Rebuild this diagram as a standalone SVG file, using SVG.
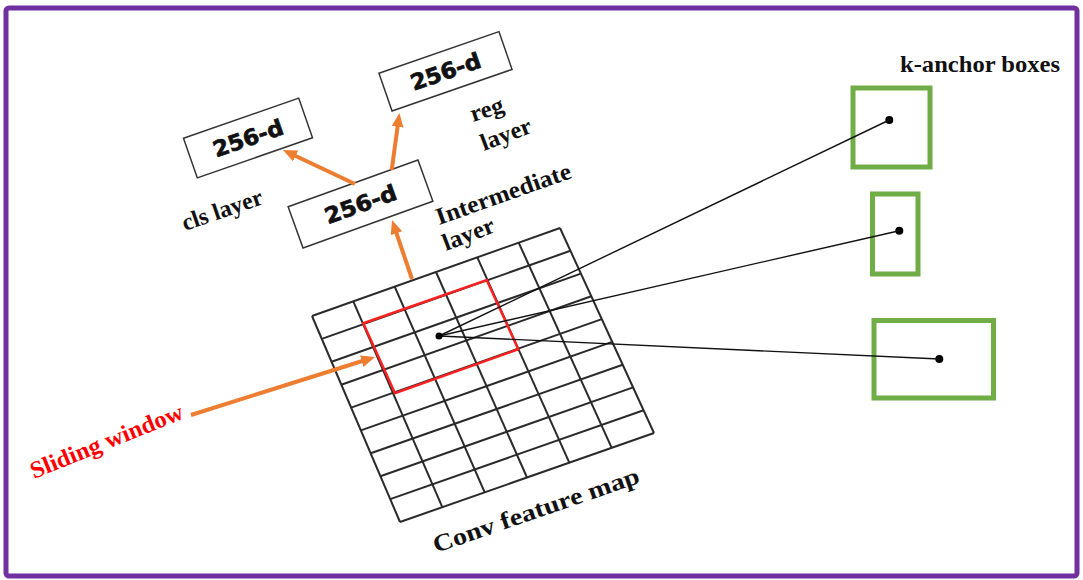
<svg xmlns="http://www.w3.org/2000/svg" width="1083" height="580" viewBox="0 0 1083 580">
  <style>
    .frame { fill: #ffffff; stroke: #7030A0; stroke-width: 5; }
    .grid line { stroke: #2a2a2a; stroke-width: 2; }
    .win { fill: none; stroke: #FF2020; stroke-width: 2.5; }
    .box { fill: #ffffff; stroke: #333333; stroke-width: 1.5; }
    .dim { font-family: "DejaVu Sans", "Liberation Sans", sans-serif; font-weight: bold; font-size: 22px; fill: #111111; stroke: #111111; stroke-width: 0.7; text-anchor: middle; }
    .lbl { font-family: "Liberation Serif", "Times New Roman", serif; font-weight: bold; font-size: 24px; fill: #111111; }
    .flow { stroke: #ED7D31; stroke-width: 4; fill: none; }
    .ray { stroke: #111111; stroke-width: 1.4; }
    .anchor { fill: none; stroke: #70AD47; stroke-width: 5; }
    .pt { fill: #000000; }
  </style>
  <defs>
    <marker id="arrow" markerUnits="userSpaceOnUse" markerWidth="16" markerHeight="14" refX="4" refY="6" orient="auto">
      <path d="M0,0 L14,6 L0,12 z" fill="#ED7D31"/>
    </marker>
  </defs>

  <!-- outer frame -->
  <rect class="frame" x="6" y="8" width="1071" height="568" rx="3"/>

  <!-- conv feature map: 6 x 9 skewed grid -->
  <g id="feature-map" class="grid">
    <line x1="312" y1="316" x2="400" y2="522"/>
    <line x1="353.3" y1="301.3" x2="442.3" y2="507.2"/>
    <line x1="394.7" y1="286.7" x2="484.7" y2="492.3"/>
    <line x1="436" y1="272" x2="527" y2="477.5"/>
    <line x1="477.3" y1="257.3" x2="569.3" y2="462.7"/>
    <line x1="518.7" y1="242.7" x2="611.7" y2="447.8"/>
    <line x1="560" y1="228" x2="654" y2="433"/>
    <line x1="312" y1="316" x2="560" y2="228"/>
    <line x1="321.8" y1="338.9" x2="570.4" y2="250.8"/>
    <line x1="331.6" y1="361.8" x2="580.9" y2="273.6"/>
    <line x1="341.3" y1="384.7" x2="591.3" y2="296.3"/>
    <line x1="351.1" y1="407.6" x2="601.8" y2="319.1"/>
    <line x1="360.9" y1="430.4" x2="612.2" y2="341.9"/>
    <line x1="370.7" y1="453.3" x2="622.7" y2="364.7"/>
    <line x1="380.4" y1="476.2" x2="633.1" y2="387.4"/>
    <line x1="390.2" y1="499.1" x2="643.6" y2="410.2"/>
    <line x1="400" y1="522" x2="654" y2="433"/>
  </g>

  <!-- sliding window -->
  <g id="sliding-window">
    <polygon class="win" points="363.3,323.3 486.7,280 518.3,349.3 395,393.3"/>
  </g>

  <!-- 256-d layers -->
  <g id="cls-box">
    <g transform="translate(248,138) rotate(-19.2)">
      <rect class="box" x="-61" y="-21" width="122" height="42"/>
      <text class="dim" x="0" y="8" textLength="73" lengthAdjust="spacingAndGlyphs">256-d</text>
    </g>
  </g>
  <g id="reg-box">
    <g transform="translate(445.5,71.3) rotate(-19.1)">
      <rect class="box" x="-63.5" y="-20" width="127" height="40"/>
      <text class="dim" x="0" y="8" textLength="73" lengthAdjust="spacingAndGlyphs">256-d</text>
    </g>
  </g>
  <g id="intermediate-box">
    <g transform="translate(360.5,204) rotate(-19.8)">
      <rect class="box" x="-69" y="-22" width="138" height="44"/>
      <text class="dim" x="0" y="8" textLength="75" lengthAdjust="spacingAndGlyphs">256-d</text>
    </g>
  </g>

  <!-- anchor boxes -->
  <g id="anchor-1">
    <rect class="anchor" x="853" y="88" width="77" height="79"/>
    <circle class="pt" cx="889.3" cy="120" r="4"/>
  </g>
  <g id="anchor-2">
    <rect class="anchor" x="872.5" y="194" width="45.5" height="80"/>
    <circle class="pt" cx="899.3" cy="230.7" r="4"/>
  </g>
  <g id="anchor-3">
    <rect class="anchor" x="874" y="320.5" width="119.5" height="77.5"/>
    <circle class="pt" cx="939.3" cy="359" r="4"/>
  </g>

  <!-- connectors -->
  <g id="connectors">
    <line class="flow" x1="355" y1="184" x2="292" y2="154.3" marker-end="url(#arrow)"/>
    <line class="flow" x1="391.7" y1="170" x2="398.1" y2="122.9" marker-end="url(#arrow)"/>
    <line class="flow" x1="412" y1="279" x2="395.2" y2="229.5" marker-end="url(#arrow)"/>
    <line class="flow" x1="191" y1="415" x2="365.5" y2="360" marker-end="url(#arrow)"/>
    <line class="ray" x1="439" y1="336" x2="889.3" y2="120"/>
    <line class="ray" x1="439" y1="336" x2="899.3" y2="230.7"/>
    <line class="ray" x1="439" y1="336" x2="939.3" y2="359"/>
    <circle class="pt" cx="439" cy="336" r="3.5"/>
  </g>

  <!-- labels -->
  <g id="labels">
    <text class="lbl" transform="translate(185,231) rotate(-19)" textLength="84" lengthAdjust="spacingAndGlyphs">cls layer</text>
    <text class="lbl" transform="translate(473,122) rotate(-18)" textLength="34" lengthAdjust="spacingAndGlyphs">reg</text>
    <text class="lbl" transform="translate(484,151) rotate(-21)" textLength="53" lengthAdjust="spacingAndGlyphs">layer</text>
    <text class="lbl" transform="translate(439,225) rotate(-19.5)" textLength="142" lengthAdjust="spacingAndGlyphs">Intermediate</text>
    <text class="lbl" transform="translate(446,251) rotate(-21)" textLength="54" lengthAdjust="spacingAndGlyphs">layer</text>
    <text class="lbl" transform="translate(436,553) rotate(-19)" font-size="29" textLength="217" lengthAdjust="spacingAndGlyphs">Conv feature map</text>
    <text class="lbl" transform="translate(34,479) rotate(-22)" font-size="23" style="fill:#FF0000" textLength="163" lengthAdjust="spacingAndGlyphs">Sliding window</text>
    <text class="lbl" x="900" y="72" font-size="23" textLength="160" lengthAdjust="spacingAndGlyphs">k-anchor boxes</text>
  </g>
</svg>
